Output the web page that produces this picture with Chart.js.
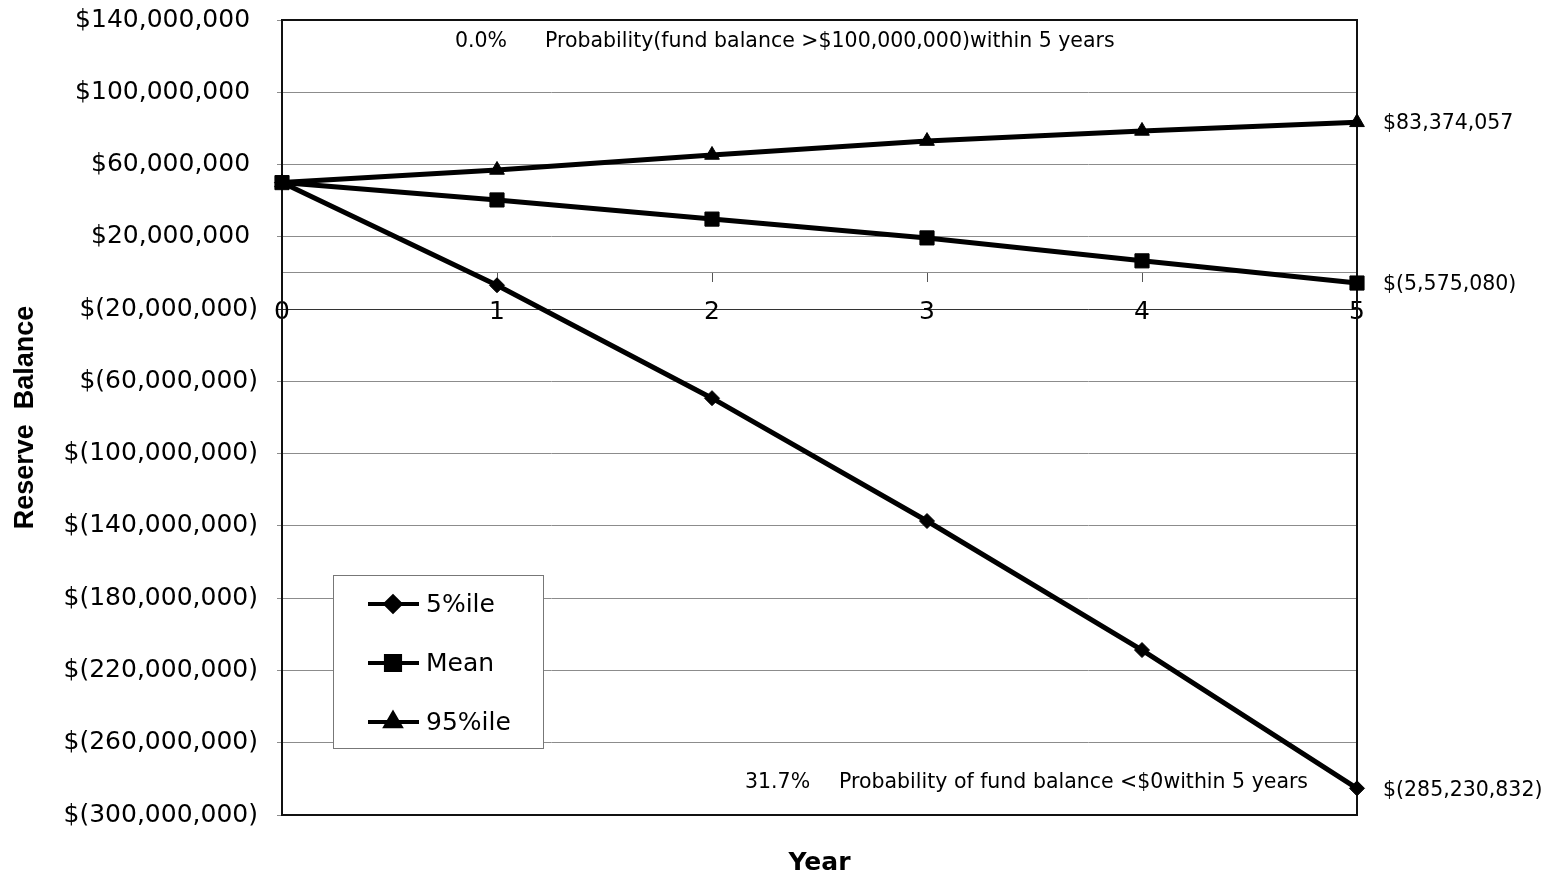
<!DOCTYPE html>
<html>
<head>
<meta charset="utf-8">
<script src="https://cdn.jsdelivr.net/npm/chart.js@4.4.1/dist/chart.umd.min.js"></script>
<style>
  html, body { margin: 0; padding: 0; background: #ffffff; }
  #wrap { width: 1551px; height: 878px; }
</style>
</head>
<body>
<div id="wrap"><canvas id="reserveChart" width="1551" height="878"></canvas></div>
<script>
// Projected reserve balance by year
const years = ['0', '1', '2', '3', '4', '5'];
const pct5 = [50000000, -6800000, -69300000, -137300000, -208700000, -285230832];
const meanBal = [50000000, 40400000, 29800000, 19400000, 6700000, -5575080];
const pct95 = [50000000, 57000000, 65300000, 73000000, 78600000, 83374057];
const yTicks = [-300000000, -260000000, -220000000, -180000000, -140000000, -100000000,
                -60000000, -20000000, 20000000, 60000000, 100000000, 140000000];
const probAbove = '0.0%';
const probAboveText = 'Probability(fund balance >$100,000,000)within 5 years';
const probBelow = '31.7%';
const probBelowText = 'Probability of fund balance <$0within 5 years';

const FONT = 'DejaVu Sans';

function groupDigits(n) {
  return String(Math.round(Math.abs(n))).replace(/\B(?=(\d{3})+(?!\d))/g, ',');
}
// Accounting style: negatives in parentheses
function money(v) {
  return v < 0 ? '$(' + groupDigits(v) + ')' : '$' + groupDigits(v);
}

// Plot frame (top, right, bottom edges)
const framePlugin = {
  id: 'frame',
  beforeDatasetsDraw(chart) {
    const { ctx, chartArea: a } = chart;
    ctx.save();
    ctx.strokeStyle = '#111';
    ctx.lineWidth = 2;
    ctx.beginPath();
    ctx.moveTo(a.left, a.top);
    ctx.lineTo(a.right, a.top);
    ctx.lineTo(a.right, a.bottom);
    ctx.lineTo(a.left, a.bottom);
    ctx.stroke();
    ctx.restore();
  }
};

// Probability notes and end-of-series value labels
const notesPlugin = {
  id: 'notes',
  afterDatasetsDraw(chart) {
    const { ctx, chartArea: a } = chart;
    ctx.save();
    ctx.fillStyle = '#000';
    ctx.textBaseline = 'middle';
    ctx.textAlign = 'left';
    ctx.font = '20.5px "' + FONT + '"';
    ctx.fillText(probAbove, a.left + 173, a.top + 22);
    ctx.fillText(probAboveText, a.left + 263, a.top + 22);
    ctx.fillText(probBelow, a.left + 463, a.bottom - 32);
    ctx.fillText(probBelowText, a.left + 557, a.bottom - 32);

    chart.data.datasets.forEach((ds, i) => {
      const meta = chart.getDatasetMeta(i);
      const last = meta.data[meta.data.length - 1];
      const v = ds.data[ds.data.length - 1];
      ctx.fillText(money(v), last.x + 26, last.y + (v < 0 ? 2 : 1));
    });
    ctx.restore();
  }
};

// Legend box inside the plot: line sample with marker, then label
const boxLegendPlugin = {
  id: 'boxLegend',
  afterDraw(chart) {
    const { ctx, chartArea: a } = chart;
    const bx = a.left + 51, by = 575, bw = 210, bh = 173;
    ctx.save();
    ctx.fillStyle = '#fff';
    ctx.fillRect(bx, by, bw, bh);
    ctx.strokeStyle = '#777';
    ctx.lineWidth = 1;
    ctx.strokeRect(bx + 0.5, by + 0.5, bw, bh);
    chart.data.datasets.forEach((ds, i) => {
      const cy = by + 29 + i * 59;
      ctx.strokeStyle = ds.borderColor;
      ctx.lineWidth = 4;
      ctx.beginPath();
      ctx.moveTo(bx + 35, cy);
      ctx.lineTo(bx + 86, cy);
      ctx.stroke();
      ctx.fillStyle = ds.pointBackgroundColor;
      ctx.strokeStyle = ds.pointBorderColor;
      if (Chart.helpers && Chart.helpers.drawPoint) {
        Chart.helpers.drawPoint(ctx, {
          pointStyle: ds.pointStyle, rotation: 0,
          radius: ds.pointRadius, borderWidth: ds.pointBorderWidth
        }, bx + 60, cy);
      }
      ctx.fillStyle = '#000';
      ctx.font = '25px "' + FONT + '"';
      ctx.textAlign = 'left';
      ctx.textBaseline = 'middle';
      ctx.fillText(ds.label, bx + 93, cy + 1);
    });
    ctx.restore();
  }
};

const lineStyle = {
  borderColor: '#000',
  backgroundColor: '#000',
  pointBackgroundColor: '#000',
  pointBorderColor: '#000',
  pointBorderWidth: 1,
  borderWidth: 5,
  tension: 0,
  fill: false,
  clip: false
};

new Chart(document.getElementById('reserveChart'), {
  type: 'line',
  data: {
    labels: years,
    datasets: [
      Object.assign({ label: '5%ile', data: pct5, pointStyle: 'rectRot', pointRadius: 7.5 }, lineStyle),
      Object.assign({ label: 'Mean', data: meanBal, pointStyle: 'rect', pointRadius: 10 }, lineStyle),
      Object.assign({ label: '95%ile', data: pct95, pointStyle: 'triangle', pointRadius: 8.5 }, lineStyle)
    ]
  },
  options: {
    responsive: false,
    animation: false,
    events: [],
    layout: { padding: { left: 0, top: 20, right: 194, bottom: 0 } },
    plugins: {
      legend: { display: false },
      tooltip: { enabled: false },
      title: {
        display: true,
        text: 'Year',
        position: 'bottom',
        fullSize: false,
        color: '#000',
        font: { family: FONT, size: 25, weight: 'bold' },
        padding: { top: 33, bottom: 0 }
      }
    },
    scales: {
      x: {
        type: 'category',
        offset: false,
        position: { y: 0 },
        grid: { drawOnChartArea: false, drawTicks: true, tickLength: 9, color: '#555', lineWidth: 1 },
        border: { display: true, color: '#8c8c8c', width: 1 },
        ticks: {
          color: '#000',
          font: { family: FONT, size: 25 },
          padding: 16,
          maxRotation: 0,
          autoSkip: false
        }
      },
      y: {
        min: -300000000,
        max: 140000000,
        afterBuildTicks: (s) => { s.ticks = yTicks.map(v => ({ value: v })); },
        afterFit: (s) => {
          s.width = 282;
          s.paddingTop = 15;
          s.paddingBottom = 15;
        },
        grid: {
          color: (c) => (c.tick && c.tick.value === -20000000) ? '#333' : '#8c8c8c',
          lineWidth: 1,
          tickLength: 5
        },
        border: { display: true, color: '#111', width: 2 },
        ticks: {
          color: '#000',
          font: { family: FONT, size: 25 },
          padding: 19,
          callback: (v) => v < 0 ? money(v) : money(v) + ' '
        },
        title: {
          display: true,
          text: 'Reserve  Balance',
          color: '#000',
          font: { family: 'Liberation Sans', size: 27, weight: 'bold' },
          padding: { top: 9, bottom: 0 }
        }
      }
    }
  },
  plugins: [framePlugin, notesPlugin, boxLegendPlugin]
});
</script>
</body>
</html>
